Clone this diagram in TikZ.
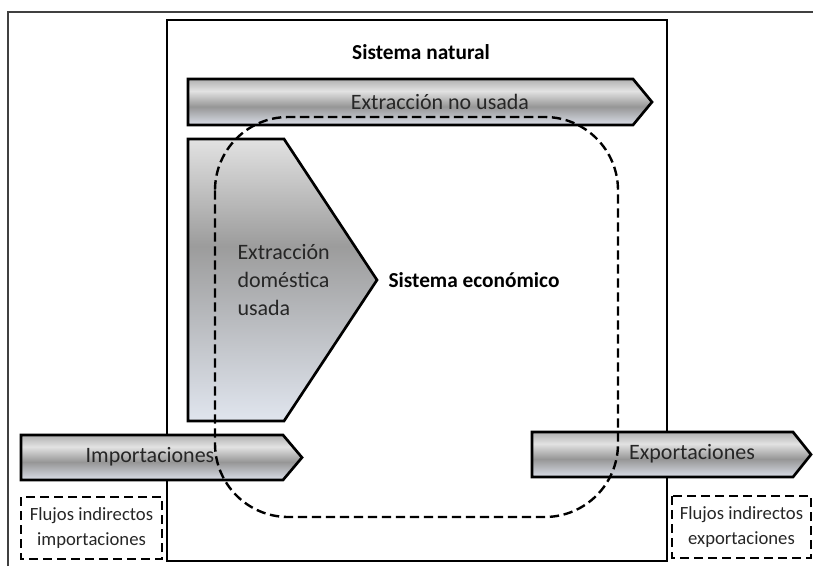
\documentclass[tikz,border=0pt]{standalone}
\usepackage{fontspec}
\setmainfont{Carlito}

\definecolor{flowBlue}{RGB}{218,222,232}
\definecolor{flowDark}{RGB}{150,150,150}
\definecolor{flowLight}{RGB}{226,226,226}
\definecolor{flowTop}{RGB}{176,176,176}
\definecolor{domTop}{RGB}{226,226,226}
\definecolor{domMid}{RGB}{156,156,156}
\definecolor{domBot}{RGB}{224,229,238}

\pgfdeclareverticalshading{flowshade}{100bp}{color(0bp)=(flowBlue); color(25bp)=(flowBlue); color(45bp)=(flowDark); color(62bp)=(flowLight); color(75bp)=(flowTop); color(100bp)=(flowTop)}
\pgfdeclareverticalshading{domshade}{100bp}{color(0bp)=(domBot); color(25bp)=(domBot); color(56bp)=(domMid); color(75bp)=(domTop); color(100bp)=(domTop)}

\tikzset{every picture/.style={line width=0.75pt}}
\tikzset{
  flowarrow/.style={draw, line width=2pt, shading=flowshade},
  domarrow/.style={draw, line width=2pt, shading=domshade},
  dashbox/.style={draw, line width=1.8pt, dash pattern=on 7pt off 3.5pt},
  lbl/.style={inner sep=0.75pt, text=black!85, font=\fontsize{16.5}{21}\selectfont},
  boldlbl/.style={inner sep=0.75pt, font=\fontsize{16}{21}\selectfont\bfseries},
  smalllbl/.style={inner sep=0.75pt, align=center, text=black!85, font=\fontsize{14}{18.75}\selectfont}
}

\begin{document}
\begin{tikzpicture}[x=0.75pt,y=0.75pt,yscale=-1]
\useasboundingbox (0,0) rectangle (813,575);
% marco exterior
\draw [line width=0.8pt, color=black!75] (8,566) -- (8,12) -- (813,12);
% sistema natural
\draw [line width=2pt] (167,20) rectangle (667,561);
\draw (421,52) node [boldlbl] (natural) {Sistema natural};
% flujos
\draw [flowarrow] (188,79) -- (633,79) -- (652,102) -- (633,125) -- (188,125) -- cycle;
\draw (440,102) node [lbl] (noUsada) {Extracción no usada};
\draw [domarrow] (188,139) -- (284,139) -- (377,280) -- (284,421) -- (188,421) -- cycle;
\draw (236,280) node [lbl, anchor=west, align=left] (domestica) {Extracción\\doméstica\\usada};
\draw (387,280) node [boldlbl, anchor=west] (economico) {Sistema económico};
\draw [flowarrow] (21,435) -- (283,435) -- (302,457.5) -- (283,480) -- (21,480) -- cycle;
\draw (150,457) node [lbl] (importaciones) {Importaciones};
\draw [flowarrow] (532,432) -- (793,432) -- (811,454.5) -- (793,477) -- (532,477) -- cycle;
\draw (692,454) node [lbl] (exportaciones) {Exportaciones};
% sistema economico (limite)
\draw [dashbox, rounded corners=55] (215,117) rectangle (618,517);
% flujos indirectos
\draw [dashbox] (21,497) rectangle (162,559);
\draw (91.5,528) node [smalllbl] (indImp) {Flujos indirectos\\importaciones};
\draw [dashbox] (672,496) rectangle (811,558);
\draw (741.5,527) node [smalllbl] (indExp) {Flujos indirectos\\exportaciones};
\end{tikzpicture}
\end{document}
